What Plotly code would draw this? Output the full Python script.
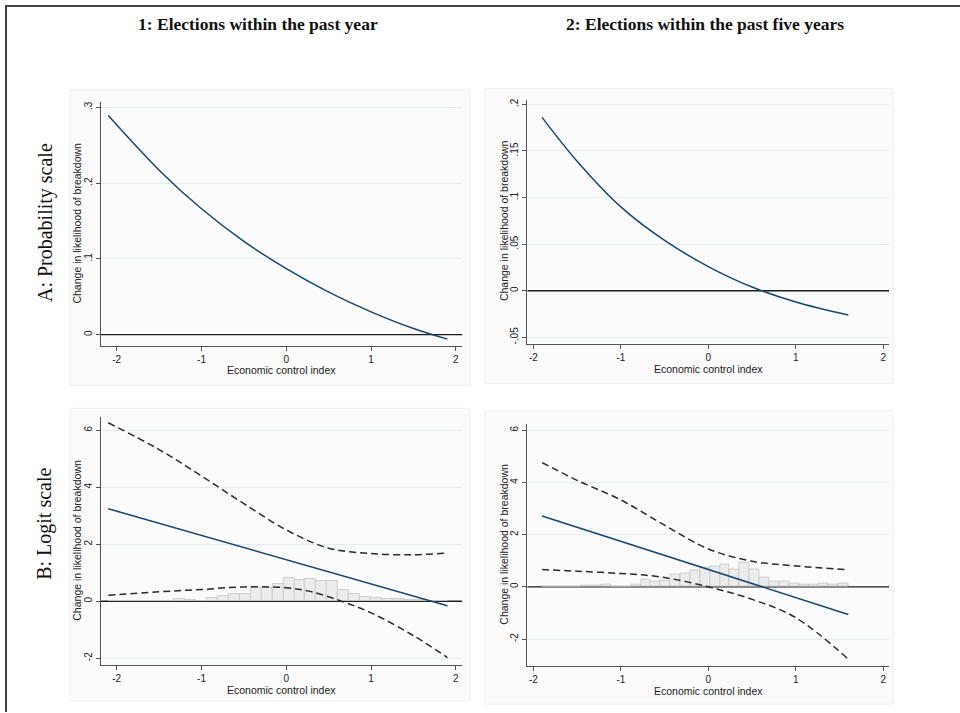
import numpy as np
import plotly.graph_objects as go

# ---------------- data ----------------
col_titles = ["1: Elections within the past year", "2: Elections within the past five years"]
row_titles = ["A: Probability scale", "B: Logit scale"]
x_title = "Economic control index"
y_title = "Change in likelihood of breakdown"

x_tickvals = [-2, -1, 0, 1, 2]
x_ticktext = ["-2", "-1", "0", "1", "2"]
a1_tickvals = [0, 0.1, 0.2, 0.3]
a1_ticktext = ["0", ".1", ".2", ".3"]
a2_tickvals = [-0.05, 0, 0.05, 0.1, 0.15, 0.2]
a2_ticktext = ["-.05", "0", ".05", ".1", ".15", ".2"]
b_tickvals = [-2, 0, 2, 4, 6]
b_ticktext = ["-2", "0", "2", "4", "6"]

# Panel A1: probability scale, past year
a1_x = [-2.1, -1.5, -1.0, -0.5, 0.0, 0.5, 1.0, 1.5, 1.9]
a1_y = [0.289, 0.217, 0.166, 0.123, 0.087, 0.056, 0.030, 0.008, -0.006]

# Panel A2: probability scale, past five years
a2_x = [-1.9, -1.5, -1.0, -0.5, 0.0, 0.5, 1.0, 1.6]
a2_y = [0.186, 0.139, 0.090, 0.054, 0.026, 0.004, -0.012, -0.026]

# Panel B1: logit scale, past year
b1_est_x = [-2.1, 1.9]
b1_est_y = [3.24, -0.16]
b1_hi_x = [-2.1, -1.5, -1.0, -0.5, 0.0, 0.5, 1.0, 1.5, 1.9]
b1_hi_y = [6.26, 5.32, 4.39, 3.42, 2.50, 1.86, 1.67, 1.63, 1.69]
b1_lo_x = [-2.1, -1.5, -1.0, -0.5, 0.0, 0.3, 0.65, 1.0, 1.5, 1.9]
b1_lo_y = [0.21, 0.33, 0.41, 0.50, 0.47, 0.33, 0.0, -0.41, -1.21, -1.98]
b1_hist_range = (-2.1, 1.9)
b1_hist = [0.01, 0.01, 0.01, 0.01, 0.01, 0.01, 0.07, 0.05, 0.02, 0.10,
           0.20, 0.27, 0.24, 0.47, 0.47, 0.61, 0.80, 0.76, 0.77, 0.72,
           0.72, 0.38, 0.27, 0.14, 0.10, 0.09, 0.09, 0.04, 0.03, 0.02, 0.02]

# Panel B2: logit scale, past five years
b2_est_x = [-1.9, 1.6]
b2_est_y = [2.71, -1.06]
b2_hi_x = [-1.9, -1.5, -1.0, -0.5, 0.0, 0.5, 1.0, 1.6]
b2_hi_y = [4.76, 4.08, 3.33, 2.36, 1.45, 0.98, 0.80, 0.65]
b2_lo_x = [-1.9, -1.5, -1.0, -0.55, 0.0, 0.5, 1.0, 1.6]
b2_lo_y = [0.66, 0.60, 0.51, 0.38, 0.0, -0.48, -1.18, -2.77]
b2_hist_range = (-1.9, 1.6)
b2_hist = [0.01, 0.02, 0.01, 0.02, 0.04, 0.06, 0.08, 0.03, 0.03, 0.10,
           0.29, 0.21, 0.25, 0.47, 0.50, 0.62, 0.74, 0.78, 0.84, 0.65,
           0.93, 0.68, 0.36, 0.21, 0.20, 0.12, 0.09, 0.10, 0.12, 0.08, 0.11]

# ---------------- layout helpers ----------------
W, H = 960, 713
BLUE = "#1a476f"
DASH = "#2b2b2b"
AXC = "#555555"
GRID = "#e4eded"
TICKFONT = dict(family="Liberation Sans, Arial, sans-serif", size=10, color="#222222")


def px_x(p):
    return p / W


def px_y(p):
    return 1 - p / H


fig = go.Figure()

# Panel definitions: (axis suffix, x-domain px, y-domain px, x-range, y-range, ticks)
panels = [
    ("", (100.7, 462), (100, 345), [-2.189, 2.072], [-0.01446, 0.3075], a1_tickvals, a1_ticktext),
    ("2", (527.3, 889), (98.3, 343), [-2.069, 2.065], [-0.0566, 0.2048], a2_tickvals, a2_ticktext),
    ("3", (100.7, 462), (416.7, 665.7), [-2.189, 2.072], [-2.236, 6.464], b_tickvals, b_ticktext),
    ("4", (527.3, 889), (423.3, 666.7), [-2.069, 2.065], [-3.028, 6.255], b_tickvals, b_ticktext),
]

layout = {}
shapes = []
annotations = []

# panel (graph region) backgrounds
bg_boxes = [(70, 88, 470, 385), (485, 87, 893, 383), (70, 408, 470, 702), (485, 410, 893, 705)]
for (x0, y0, x1, y1) in bg_boxes:
    shapes.append(dict(type="rect", xref="paper", yref="paper",
                       x0=px_x(x0), x1=px_x(x1), y0=px_y(y1), y1=px_y(y0),
                       fillcolor="#fbfbfb", line=dict(color="#efefef", width=1), layer="below"))

for suf, (xl, xr), (yt, yb), xr_, yr_, tv, tt in panels:
    xa = "xaxis" + suf
    ya = "yaxis" + suf
    layout[xa] = dict(domain=[px_x(xl), px_x(xr)], range=xr_, anchor="y" + suf,
                      tickvals=x_tickvals, ticktext=x_ticktext, showgrid=False,
                      zeroline=False, showline=True, linecolor=AXC, linewidth=1,
                      ticks="outside", ticklen=4, tickcolor=AXC, tickfont=TICKFONT,
                      fixedrange=True)
    layout[ya] = dict(domain=[px_y(yb), px_y(yt)], range=yr_, anchor="x" + suf,
                      tickvals=tv, ticktext=tt, showgrid=True, gridcolor=GRID, gridwidth=1,
                      zeroline=False, showline=True, linecolor=AXC, linewidth=1,
                      ticks="outside", ticklen=4, tickcolor=AXC, tickfont=TICKFONT,
                      tickangle=-90, fixedrange=True)
    # reference line at zero spanning the plot area
    shapes.append(dict(type="line", xref="x" + suf, yref="y" + suf,
                       x0=xr_[0], x1=xr_[1], y0=0, y1=0,
                       line=dict(color="#1e1e1e", width=1.4), layer="between"))

# ---------------- traces ----------------
def add_hist(heights, rng, suf):
    n = len(heights)
    edges = np.linspace(rng[0], rng[1], n + 1)
    centers = (edges[:-1] + edges[1:]) / 2
    width = edges[1] - edges[0]
    fig.add_trace(go.Bar(x=centers, y=heights, width=[width] * n,
                         marker=dict(color="#ececec", line=dict(color="#c4c4c4", width=0.8)),
                         xaxis="x" + suf, yaxis="y" + suf, hoverinfo="skip"))


def add_line(x, y, suf, color, dash=None, shape="spline"):
    fig.add_trace(go.Scatter(x=x, y=y, mode="lines", xaxis="x" + suf, yaxis="y" + suf,
                             line=dict(color=color, width=1.5, dash=dash, shape=shape, smoothing=1.0),
                             hoverinfo="skip"))


add_line(a1_x, a1_y, "", BLUE)
add_line(a2_x, a2_y, "2", BLUE)

add_hist(b1_hist, b1_hist_range, "3")
add_line(b1_hi_x, b1_hi_y, "3", DASH, dash="7px,4px")
add_line(b1_lo_x, b1_lo_y, "3", DASH, dash="7px,4px")
add_line(b1_est_x, b1_est_y, "3", BLUE, shape="linear")

add_hist(b2_hist, b2_hist_range, "4")
add_line(b2_hi_x, b2_hi_y, "4", DASH, dash="7px,4px")
add_line(b2_lo_x, b2_lo_y, "4", DASH, dash="7px,4px")
add_line(b2_est_x, b2_est_y, "4", BLUE, shape="linear")

# ---------------- text ----------------
SERIF = "Liberation Serif, Times New Roman, serif"
SANS = "Liberation Sans, Arial, sans-serif"


def ann(text, xp, yp, size, family, angle=0, color="#111111"):
    annotations.append(dict(text=text, x=px_x(xp), y=px_y(yp), textangle=angle,
                            xref="paper", yref="paper", showarrow=False,
                            xanchor="center", yanchor="middle",
                            font=dict(family=family, size=size, color=color)))


ann("<b>" + col_titles[0] + "</b>", 258, 22, 17.5, SERIF)
ann("<b>" + col_titles[1] + "</b>", 705, 22, 17.5, SERIF)
ann(row_titles[0], 45, 222, 20, SERIF, angle=-90)
ann(row_titles[1], 45, 524, 20, SERIF, angle=-90)

ytitle_pos = [(77, 222.5), (504, 220), (77, 541), (504, 545)]
xtitle_pos = [(281, 370), (708, 369), (281, 691), (708, 692)]
for (xp, yp) in ytitle_pos:
    ann(y_title, xp, yp, 10.5, SANS, angle=-90, color="#222222")
for (xp, yp) in xtitle_pos:
    ann(x_title, xp, yp, 10.5, SANS, color="#222222")

# outer frame (top and left edges visible)
shapes.append(dict(type="line", xref="paper", yref="paper", x0=px_x(5), x1=1.0,
                   y0=px_y(4), y1=px_y(4), line=dict(color="#444444", width=2)))
shapes.append(dict(type="line", xref="paper", yref="paper", x0=px_x(6), x1=px_x(6),
                   y0=px_y(4), y1=0.0, line=dict(color="#444444", width=2)))

fig.update_layout(width=W, height=H, margin=dict(l=0, r=0, t=0, b=0),
                  paper_bgcolor="white", plot_bgcolor="white", showlegend=False,
                  bargap=0, barmode="overlay", shapes=shapes, annotations=annotations,
                  **layout)

fig.write_html("out.html", include_plotlyjs=True, config={"displayModeBar": False},
               post_script="document.body.style.margin='0';document.body.style.overflow='hidden';")
